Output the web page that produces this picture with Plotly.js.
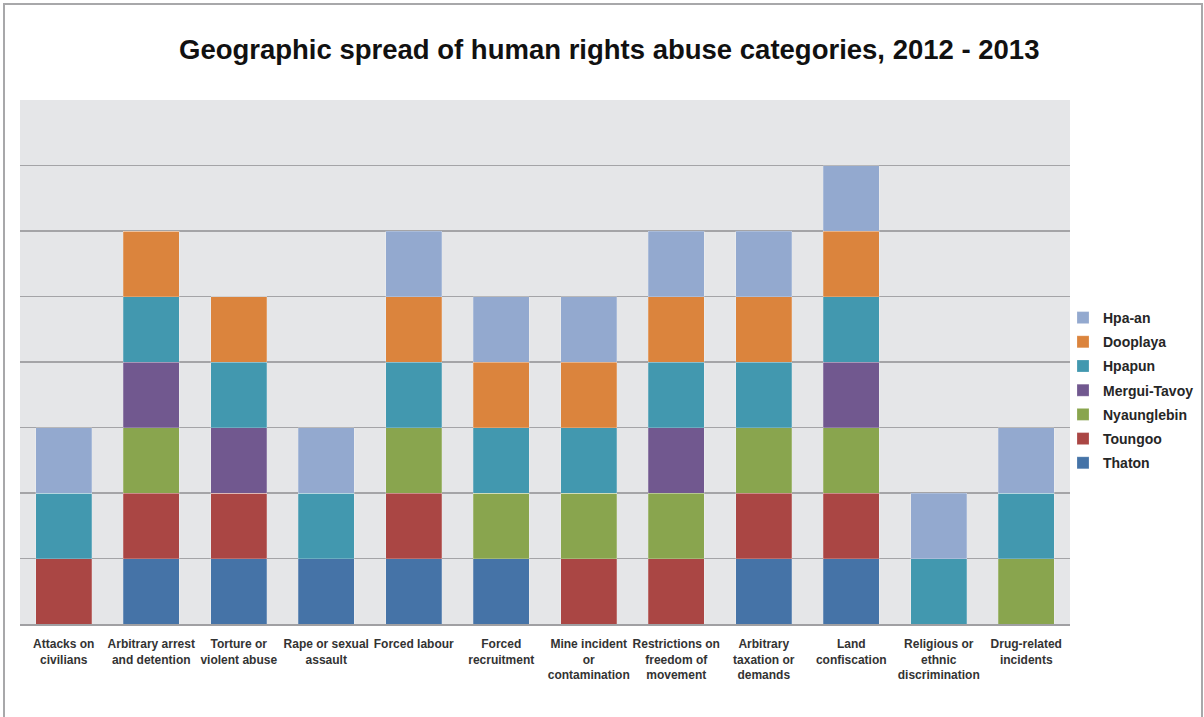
<!DOCTYPE html>
<html>
<head>
<meta charset="utf-8">
<script src="https://cdn.plot.ly/plotly-3.0.1.min.js"></script>
<style>
  html, body { margin: 0; padding: 0; background: #ffffff; }
  #chart { position: absolute; left: 0; top: 0; width: 1204px; height: 717px; }
  #frame { position: absolute; left: 3px; top: 3px; width: 1196px; height: 760px;
           border: 2px solid #A8A8AA; pointer-events: none; }
</style>
</head>
<body>
<div id="chart"></div>
<div id="frame"></div>
<script>
const categories = [
  "Attacks on<br>civilians",
  "Arbitrary arrest<br>and detention",
  "Torture or<br>violent abuse",
  "Rape or sexual<br>assault",
  "Forced labour",
  "Forced<br>recruitment",
  "Mine incident<br>or<br>contamination",
  "Restrictions on<br>freedom of<br>movement",
  "Arbitrary<br>taxation or<br>demands",
  "Land<br>confiscation",
  "Religious or<br>ethnic<br>discrimination",
  "Drug-related<br>incidents"
];

const thaton       = [0, 1, 1, 1, 1, 1, 0, 0, 1, 1, 0, 0];
const toungoo      = [1, 1, 1, 0, 1, 0, 1, 1, 1, 1, 0, 0];
const nyaunglebin  = [0, 1, 0, 0, 1, 1, 1, 1, 1, 1, 0, 1];
const merguiTavoy  = [0, 1, 1, 0, 0, 0, 0, 1, 0, 1, 0, 0];
const hpapun       = [1, 1, 1, 1, 1, 1, 1, 1, 1, 1, 1, 1];
const dooplaya     = [0, 1, 1, 0, 1, 1, 1, 1, 1, 1, 0, 0];
const hpaAn        = [1, 0, 0, 1, 1, 1, 1, 1, 1, 1, 1, 1];

const seriesNames  = ["Thaton", "Toungoo", "Nyaunglebin", "Mergui-Tavoy", "Hpapun", "Dooplaya", "Hpa-an"];
const seriesValues = [thaton, toungoo, nyaunglebin, merguiTavoy, hpapun, dooplaya, hpaAn];
const seriesColors = ["#4573A7", "#AA4644", "#89A54E", "#71588F", "#4298AF", "#DB843D", "#93A9CF"];

const traces = seriesNames.map((name, i) => ({
  type: "bar",
  name: name,
  x: categories,
  y: seriesValues[i],
  legendgroup: name,
  legendrank: 1000 - i,
  marker: { color: seriesColors[i], line: { width: 0.6, color: "rgba(255,255,255,0.35)" } },
  hoverinfo: "x+name"
}));

const layout = {
  width: 1204,
  height: 717,
  paper_bgcolor: "#ffffff",
  plot_bgcolor: "#E5E6E8",
  barmode: "stack",
  bargap: 0.36,
  margin: { l: 20, r: 134, t: 100, b: 93, autoexpand: false },
  font: { family: "Arial, 'Liberation Sans', sans-serif", color: "#262626" },
  title: {
    text: "<b>Geographic spread of human rights abuse categories, 2012 - 2013</b>",
    font: { size: 27.5, color: "#111111", family: "Arial, 'Liberation Sans', sans-serif" },
    x: 0.506, xanchor: "center",
    y: 1 - 49 / 717, yanchor: "middle"
  },
  xaxis: {
    type: "category",
    showgrid: false,
    showline: true,
    linecolor: "#A0A0A3",
    linewidth: 1.5,
    ticks: "",
    ticklabelstandoff: 8,
    tickfont: { size: 12, color: "#333333", weight: "bold" },
    automargin: false
  },
  yaxis: {
    range: [0, 8],
    dtick: 1,
    showticklabels: false,
    showgrid: true,
    gridcolor: "#A4A4A7",
    gridwidth: 1.3,
    zeroline: false,
    showline: false,
    ticks: ""
  },
  showlegend: true,
  legend: {
    traceorder: "grouped",
    xref: "container", yref: "container",
    x: 1063 / 1204, xanchor: "left",
    y: 1 - 302 / 717, yanchor: "top",
    font: { size: 14, color: "#262626", weight: "bold" },
    tracegroupgap: 3,
    bgcolor: "rgba(0,0,0,0)",
    itemwidth: 30
  }
};

Plotly.newPlot("chart", traces, layout, { displayModeBar: false, staticPlot: true });
</script>
</body>
</html>
